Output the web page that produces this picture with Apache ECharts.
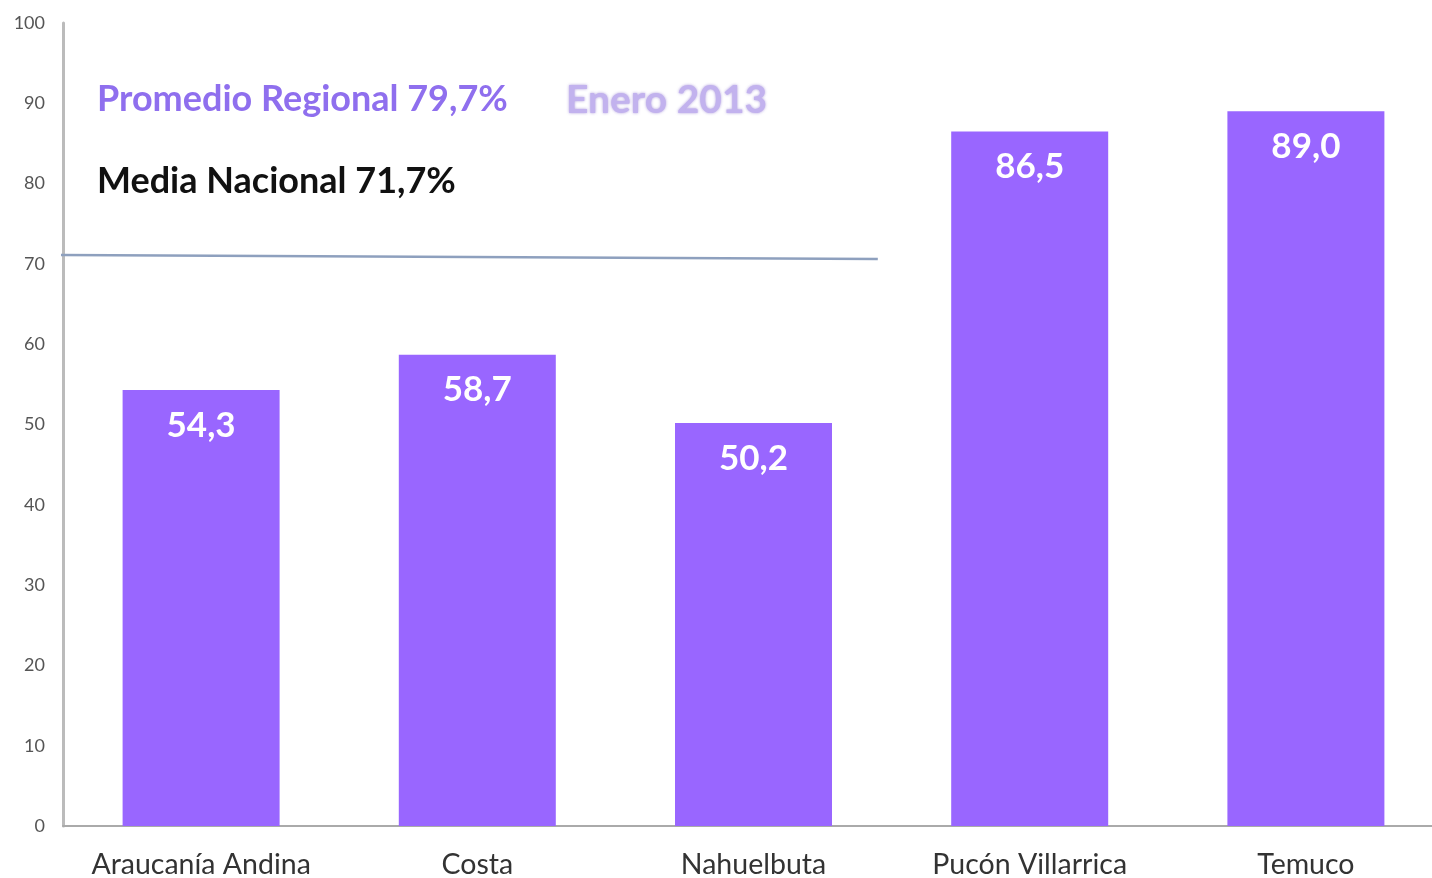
<!DOCTYPE html>
<html>
<head>
<meta charset="utf-8">
<title>Promedio Regional Enero 2013</title>
<script src="https://cdn.jsdelivr.net/npm/echarts@6/dist/echarts.min.js"></script>
<style>
  html, body { margin: 0; padding: 0; background: #fff; }
  #chart { width: 1432px; height: 878px; }
</style>
</head>
<body>
<div id="chart"></div>
<script>
// datos
const categorias = ['Araucanía Andina', 'Costa', 'Nahuelbuta', 'Pucón Villarrica', 'Temuco']
const valores = [54.3, 58.7, 50.2, 86.5, 89.0]
// línea de media nacional (x en unidades de categoría, y en %)
const lineaMedia = [[-0.03, 71.1], [2.95, 70.6]]

const fuente = 'Lato, "Open Sans", sans-serif'

const chart = echarts.init(document.getElementById('chart'))

const option = {
  animation: false,
  title: [
    {
      text: 'Promedio Regional 79,7%',
      left: 92, top: 76,
      textStyle: { color: '#8F6FEE', fontSize: 36, fontWeight: 'bold', fontFamily: fuente }
    },
    {
      text: 'Enero 2013',
      left: 561, top: 76,
      textStyle: {
        color: '#C2B2EE', fontSize: 39, fontWeight: 'bold', fontFamily: fuente,
        textShadowColor: 'rgba(120,90,200,0.6)', textShadowBlur: 3
      }
    },
    {
      text: 'Media Nacional 71,7%',
      left: 92, top: 158,
      textStyle: { color: '#111', fontSize: 36, fontWeight: 'bold', fontFamily: fuente }
    }
  ],
  grid: { left: 63, width: 1381, top: 23, bottom: 52, outerBoundsMode: 'none', containLabel: false },
  xAxis: [
    {
      type: 'category',
      data: categorias,
      axisLine: { lineStyle: { color: '#aaa', width: 2 } },
      axisTick: { show: false },
      axisLabel: { color: '#333', fontSize: 28.5, fontFamily: fuente, margin: 24, interval: 0 }
    },
    {
      type: 'value',
      min: 0, max: 5,
      show: false
    }
  ],
  yAxis: {
    type: 'value',
    min: 0, max: 100, interval: 10,
    splitLine: { show: false },
    axisLine: { show: true, lineStyle: { color: '#bbb', width: 3 } },
    axisTick: { show: false },
    axisLabel: { color: '#555', fontSize: 18, fontFamily: fuente, margin: 18 }
  },
  series: [
    {
      type: 'bar',
      data: valores,
      barWidth: 157,
      itemStyle: { color: '#9966FF' },
      label: {
        show: true,
        position: 'insideTop',
        distance: 18,
        color: '#fff',
        fontSize: 35,
        fontWeight: 'bold',
        fontFamily: fuente,
        formatter: p => p.value.toFixed(1).replace('.', ',')
      }
    },
    {
      type: 'line',
      xAxisIndex: 1,
      data: lineaMedia,
      clip: false,
      symbol: 'none',
      lineStyle: { color: '#8EA0BE', width: 2.5 }
    }
  ]
}

chart.setOption(option)
</script>
</body>
</html>
